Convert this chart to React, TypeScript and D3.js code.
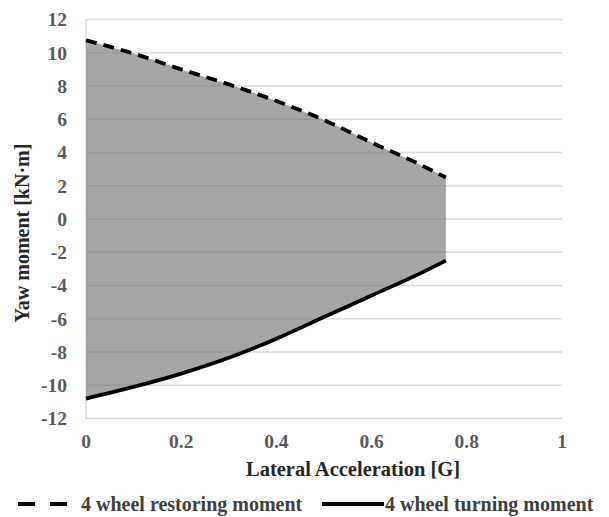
import React from 'react';
import * as d3 from 'd3';

// lateral acceleration [G]
const accel = [0, 0.1, 0.2, 0.3, 0.4, 0.5, 0.6, 0.7, 0.756];
// yaw moment [kN·m]
const restoring = [10.75, 9.95, 9.0, 8.1, 7.1, 5.95, 4.6, 3.3, 2.5];
const turning = [-10.8, -10.1, -9.3, -8.35, -7.2, -5.9, -4.6, -3.3, -2.5];

const yTicks = [-12, -10, -8, -6, -4, -2, 0, 2, 4, 6, 8, 10, 12];
const xTicks = [0, 0.2, 0.4, 0.6, 0.8, 1];

const W = 609;
const H = 517;
const margin = { top: 19.5, left: 86, right: 47, bottom: 98.5 };

export default function App() {
  const x = d3.scaleLinear().domain([0, 1]).range([margin.left, W - margin.right]);
  const y = d3.scaleLinear().domain([-12, 12]).range([H - margin.bottom, margin.top]);

  const pts = accel.map((a, i) => ({ a, hi: restoring[i], lo: turning[i] }));

  const area = d3.area<any>()
    .x(d => x(d.a))
    .y0(d => y(d.lo))
    .y1(d => y(d.hi))
    .curve(d3.curveMonotoneX);

  const lineHi = d3.line<any>().x(d => x(d.a)).y(d => y(d.hi)).curve(d3.curveMonotoneX);
  const lineLo = d3.line<any>().x(d => x(d.a)).y(d => y(d.lo)).curve(d3.curveMonotoneX);

  const font = "'Liberation Serif', 'DejaVu Serif', serif";
  const tickCol = '#595959';
  const titleCol = '#262626';

  return (
    <svg width={W} height={H} style={{ position: 'absolute', left: 0, top: 0, background: '#fff', fontFamily: font, fontWeight: 'bold' }}>
      {/* grid */}
      {yTicks.map(t => (
        <line key={t} x1={x(0)} x2={x(1)} y1={y(t)} y2={y(t)} stroke="#d9d9d9" strokeWidth={1.3} />
      ))}
      <line x1={x(0)} x2={x(0)} y1={y(12)} y2={y(-12)} stroke="#d9d9d9" strokeWidth={1.3} />

      {/* envelope */}
      <path d={area(pts) || ''} fill="#808080" fillOpacity={0.7} />
      <path d={lineHi(pts) || ''} fill="none" stroke="#000" strokeWidth={3.8} strokeDasharray="11,7" />
      <path d={lineLo(pts) || ''} fill="none" stroke="#000" strokeWidth={3.8} />

      {/* y ticks */}
      {yTicks.map(t => (
        <text key={t} x={67} y={y(t)} dy="0.35em" textAnchor="end" fontSize={19.5} fill={tickCol}>{t}</text>
      ))}
      {/* x ticks */}
      {xTicks.map(t => (
        <text key={t} x={x(t)} y={441} dy="0.35em" textAnchor="middle" fontSize={19.5} fill={tickCol}>{t}</text>
      ))}

      <text x={353} y={469} dy="0.35em" textAnchor="middle" fontSize={20.5} fill={titleCol}>
        Lateral Acceleration [G]
      </text>
      <text transform={`translate(22,233) rotate(-90)`} dy="0.35em" textAnchor="middle" fontSize={20} fill={titleCol}>
        Yaw moment [kN·m]
      </text>

      {/* legend */}
      <line x1={18} x2={68} y1={504} y2={504} stroke="#000" strokeWidth={4} strokeDasharray="17,15" />
      <text x={81} y={504} dy="0.35em" fontSize={20} fill="#404040">4 wheel restoring moment</text>
      <line x1={322} x2={384} y1={504} y2={504} stroke="#000" strokeWidth={4} />
      <text x={385} y={504} dy="0.35em" fontSize={20} fill="#404040">4 wheel turning moment</text>
    </svg>
  );
}
